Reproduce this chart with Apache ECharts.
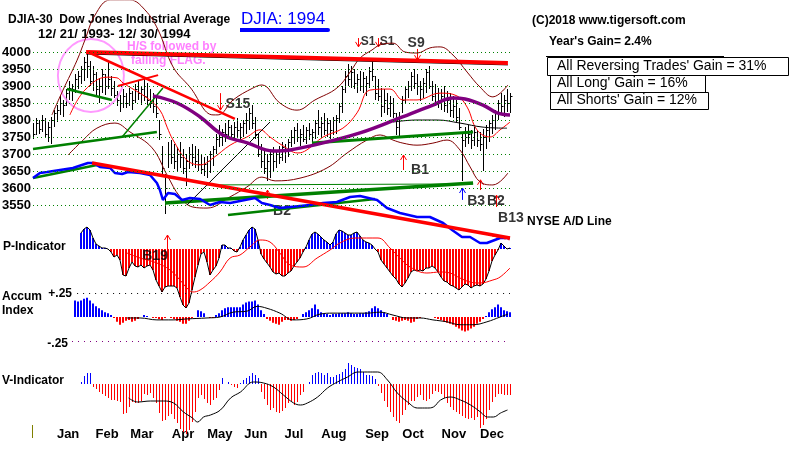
<!DOCTYPE html>
<html>
<head>
<meta charset="utf-8">
<script src="https://cdn.jsdelivr.net/npm/echarts@6/dist/echarts.min.js"></script>
<style>
  html, body { margin: 0; padding: 0; background: #fff; }
  #chart { width: 800px; height: 453px; }
</style>
</head>
<body>
<div id="chart"></div>
<script>
const FONT = '"Liberation Sans", Arial, sans-serif'

// x axis = bar slot (slot 0 = 12/21/93, last slot = 12/30/94)
const priceHigh = [
  3790, 3805, 3800, 3815, 3805, 3795, 3810, 3830, 3845, 3870,
  3860, 3890, 3915, 3905, 3935, 3945, 3960, 3985, 4000, 3975,
  3960, 3940, 3925, 3950, 3935, 3970, 3930, 3915, 3885, 3875,
  3890, 3880, 3895, 3885, 3905, 3915, 3900, 3920, 3910, 3890,
  3880, 3870, 3800, 3725, 3640, 3735, 3740, 3730, 3720, 3735,
  3715, 3700, 3720, 3730, 3725, 3715, 3700, 3690, 3695, 3710,
  3725, 3760, 3785, 3775, 3790, 3800, 3785, 3795, 3805, 3790,
  3800, 3820, 3835, 3845, 3810, 3760, 3730, 3710, 3700, 3715,
  3720, 3710, 3725, 3735, 3730, 3745, 3770, 3780, 3790, 3775,
  3785, 3780, 3790, 3775, 3800, 3830, 3810, 3820, 3805, 3800,
  3810, 3815, 3850, 3900, 3945, 3965, 3960, 3950, 3935, 3945,
  3940, 3930, 3955, 3975, 3930, 3920, 3895, 3890, 3880, 3870,
  3865, 3820, 3825, 3870, 3900, 3915, 3940, 3950, 3935, 3915,
  3925, 3950, 3960, 3915, 3905, 3895, 3890, 3900, 3885, 3880,
  3870, 3860, 3835, 3760, 3780, 3785, 3770, 3780, 3770, 3765,
  3775, 3785, 3800, 3815, 3830, 3860, 3880, 3875, 3890, 3880
]
const priceLow = [
  3745, 3755, 3760, 3765, 3750, 3735, 3728, 3780, 3795, 3815,
  3810, 3840, 3860, 3855, 3880, 3890, 3905, 3915, 3925, 3900,
  3885, 3870, 3850, 3880, 3875, 3890, 3870, 3865, 3840, 3825,
  3835, 3835, 3840, 3830, 3850, 3860, 3845, 3855, 3845, 3835,
  3820, 3805, 3740, 3640, 3525, 3660, 3670, 3655, 3650, 3660,
  3640, 3605, 3655, 3665, 3660, 3650, 3640, 3635, 3630, 3645,
  3665, 3700, 3720, 3725, 3735, 3745, 3740, 3745, 3750, 3740,
  3750, 3760, 3770, 3775, 3745, 3690, 3660, 3640, 3620, 3630,
  3650, 3660, 3670, 3680, 3675, 3690, 3720, 3730, 3735, 3725,
  3735, 3730, 3740, 3730, 3745, 3755, 3750, 3755, 3750, 3745,
  3755, 3760, 3790, 3820, 3880, 3900, 3895, 3890, 3880, 3885,
  3880, 3870, 3895, 3915, 3860, 3855, 3810, 3820, 3815, 3810,
  3805, 3755, 3750, 3820, 3850, 3865, 3885, 3890, 3875, 3855,
  3865, 3880, 3890, 3855, 3840, 3835, 3830, 3825, 3820, 3810,
  3805, 3795, 3770, 3620, 3720, 3730, 3715, 3725, 3720, 3710,
  3650, 3715, 3735, 3760, 3770, 3800, 3815, 3810, 3825, 3820
]
const priceClose = [
  3760, 3790, 3775, 3800, 3760, 3780, 3800, 3820, 3830, 3850,
  3845, 3880, 3895, 3890, 3920, 3930, 3950, 3970, 3960, 3915,
  3935, 3890, 3900, 3935, 3900, 3920, 3895, 3875, 3860, 3850,
  3870, 3850, 3880, 3860, 3890, 3880, 3890, 3870, 3860, 3850,
  3840, 3820, 3760, 3660, 3600, 3700, 3690, 3680, 3700, 3690,
  3660, 3680, 3700, 3690, 3680, 3670, 3655, 3670, 3680, 3700,
  3715, 3745, 3750, 3765, 3760, 3780, 3760, 3780, 3770, 3780,
  3790, 3800, 3820, 3790, 3760, 3700, 3680, 3660, 3680, 3700,
  3680, 3700, 3690, 3720, 3710, 3735, 3750, 3770, 3750, 3760,
  3745, 3770, 3760, 3765, 3790, 3780, 3790, 3770, 3790, 3770,
  3800, 3805, 3840, 3890, 3930, 3920, 3940, 3910, 3920, 3900,
  3925, 3910, 3945, 3930, 3880, 3870, 3840, 3860, 3835, 3850,
  3820, 3780, 3810, 3860, 3890, 3900, 3930, 3910, 3900, 3890,
  3910, 3940, 3900, 3870, 3880, 3850, 3870, 3845, 3860, 3830,
  3840, 3810, 3780, 3740, 3750, 3760, 3740, 3765, 3740, 3730,
  3750, 3770, 3790, 3800, 3820, 3850, 3840, 3860, 3850, 3870
]

const priceTicks = [3550, 3600, 3650, 3700, 3750, 3800, 3850, 3900, 3950, 4000]
const monthNames = ['Jan', 'Feb', 'Mar', 'Apr', 'May', 'Jun', 'Jul', 'Aug', 'Sep', 'Oct', 'Nov', 'Dec']
const monthPos = [11.7, 24.7, 36.3, 50, 62.3, 74.3, 87, 100.3, 114.7, 126.7, 140.3, 153]

// bands and moving averages [slot, price]
const upperBand = [[6.3,3815],[10,3888],[14.7,3976],[17.3,4035],[20.7,4109],[25.7,4153],[32.3,4153],[37.3,4124],[41.7,4065],[46.7,3956],[52.3,3897],[60,3815],[61.7,3815],[66.7,3859],[73.3,3894],[76.3,3903],[82.3,3850],[88,3829],[94,3859],[101.3,3894],[105.7,3941],[109,3982],[113,4006],[115.7,4021],[120,4026],[124,4000],[128,3997],[132.3,4012],[135.7,4015],[140,3991],[144.7,3941],[149,3897],[153.3,3868],[158.3,3903]]
const lowerBand = [[11.7,3697],[16.7,3741],[21.3,3776],[27.3,3791],[32.3,3765],[39.7,3718],[44.7,3638],[49,3574],[53.3,3544],[58,3541],[65.7,3574],[71.3,3603],[76.3,3632],[80.7,3621],[89,3629],[98,3659],[104.7,3703],[111.3,3741],[115.7,3756],[120,3741],[123.3,3732],[128,3726],[133.3,3732],[138,3741],[142.3,3712],[145.7,3662],[149,3618],[153.3,3609],[158.3,3644]]
const redMA = [[12.3,3815],[17.3,3888],[24.7,3926],[28,3924],[30,3909],[38,3865],[42.3,3829],[44.7,3779],[46.7,3741],[51.3,3682],[55.7,3668],[60,3688],[65.7,3726],[71.3,3750],[75.7,3771],[79,3750],[83,3726],[88.3,3703],[91.3,3712],[96.7,3750],[103.3,3776],[108,3821],[112.3,3888],[119,3891],[123.3,3859],[128,3859],[135.7,3879],[141.3,3871],[144.7,3838],[148,3771],[152.3,3750],[155.7,3771],[159,3794]]
const purpleMA = [[40,3871],[48,3850],[55.7,3809],[63.3,3756],[71.7,3732],[80,3709],[85.7,3712],[95,3729],[109,3762],[122.3,3806],[133.3,3844],[140,3865],[144,3862],[150,3844],[154.7,3821],[159,3815]]
const blackMA = [[120,3794],[128,3800],[134.7,3800],[142.3,3791],[150,3779],[158,3776]]

// NYSE A/D line (own scale)
const adLine = [[0,78],[2.3,83],[4.7,84],[9,86],[13.3,88],[18.3,93],[20,93],[22.3,89],[25.7,88],[27.3,83],[29.7,82],[31.7,84],[35.7,83],[39,81],[41.3,73],[42.3,66],[43.3,56],[45,63],[47.3,62],[49.7,56],[52.3,58],[55.7,57],[59,51],[62.3,54],[65.7,53],[69,55],[74,58],[76.3,53],[79,51],[82.3,48],[85.7,49],[89,50],[92.3,51],[96.7,53],[101.3,54],[105.7,59],[109,60],[114.7,56],[118,48],[122.3,43],[128,39],[132.3,39],[136.7,33],[139.7,26],[143,19],[145.7,19],[149,13],[151.3,13],[155.7,18],[159,18]]

// trend lines
const redTop = [[17.7,4000],[158.3,3968]]
const redFall = [[18.3,4000],[67.3,3803]]
const redFlag = [[28.3,3900],[41.7,3932]]
const greenNeck = [[11.3,3891],[26.3,3859]]
const greenRise = [[29.7,3750],[43.3,3894]]
const greenLong = [[0,3715],[41.3,3765]]
const greenSupport = [[44,3556],[146.7,3615]]
const greenFlat = [[58,3609],[146.7,3612]]
const greenUpper = [[93,3732],[146.7,3765]]
const blackDiag = [[51.3,3550],[79,3794]]
const adDown = [[19.7,93],[159,18]]
const adDownDotted = [[141.3,28],[159,16]]
const adUp = [[0,78],[21.3,91]]
const adSupport = [[65,41],[114,57]]

// indicators, one value per slot
const pStart = 16
const pValues = [
  16, 20, 22, 19, 11, 5, 3, 1, 1, 0,
  -3, -8, -6, -11, -26, -27, -19, -13, -17, -18,
  -16, -19, -17, -16, -21, -31, -37, -43, -38, -37,
  -37, -37, -39, -48, -56, -59, -54, -41, -28, -16,
  -5, -3, -13, -26, -21, -17, -9, 4, 4, 1,
  1, -2, -3, 2, 9, 14, 19, 22, 20, 9,
  -5, -10, -14, -18, -23, -25, -24, -27, -27, -24,
  -22, -17, -13, -9, -3, 2, 9, 15, 17, 15,
  12, 9, 7, 4, 7, 15, 19, 18, 16, 14,
  14, 16, 17, 13, 9, 7, 6, 4, 0, -3,
  -11, -15, -19, -23, -27, -30, -35, -38, -34, -29,
  -23, -21, -22, -21, -22, -19, -19, -17, -19, -23,
  -28, -32, -33, -36, -37, -39, -41, -38, -35, -36,
  -39, -37, -36, -37, -35, -30, -22, -12, -6, -1,
  6, 3, 0, 1
]
const pMA = [[31.3,-4],[35.7,-9],[41.3,-14],[45.7,-21],[49,-31],[51.3,-39],[53.3,-43],[55.7,-41],[59,-33],[62.3,-23],[65.7,-9],[69,-6],[72.3,2],[75.7,9],[79,7],[82.3,-4],[85.7,-16],[90,-18],[94.7,-9],[99,-1],[102.3,6],[107.3,11],[115,11],[119,1],[122.3,-9],[125.7,-18],[131.3,-24],[135.7,-23],[139,-24],[142.3,-29],[145.7,-33],[149,-34],[153.3,-31],[155.7,-28],[159,-19]]

const accStart = 14
const accValues = [
  .17, .16, .17, .19, .20, .17, .14, .11, .09, .07,
  .05, .04, .02, -.01, -.05, -.08, -.06, -.04, -.03, -.05,
  -.04, -.02, 0, .02, .01, 0, -.01, -.01, -.02, -.03,
  -.01, 0, -.01, -.02, -.04, -.05, -.07, -.07, -.04, -.01,
  0, .07, .06, .04, 0, -.01, -.01, .02, .04, .07,
  .09, .10, .10, .10, .10, .10, .13, .15, .16, .16,
  .17, .13, .07, .03, -.02, -.04, -.06, -.07, -.08, -.05,
  -.03, -.03, -.04, -.03, -.02, 0, .03, .05, .07, .09,
  .13, .08, .05, .04, .03, .02, .03, .03, .04, .04,
  .04, .05, .04, .03, .03, .04, .04, .05, .06, .09,
  .11, .09, .07, .05, .03, 0, -.03, -.04, -.05, -.04,
  -.03, -.04, -.06, -.05, -.02, -.01, 0, 0, 0, 0,
  -.01, -.02, -.03, -.05, -.06, -.07, -.08, -.10, -.12, -.14,
  -.15, -.14, -.12, -.10, -.07, -.05, -.02, .01, .05, .08,
  .10, .13, .10, .07, .06, .05
]
const accMA = [[31.3,-.01],[35.7,-.01],[41.3,-.03],[46.7,-.03],[51.3,-.02],[58,-.01],[62.3,0],[66.7,.05],[71.3,.06],[74.7,.11],[78,.09],[82.3,.04],[86.7,-.03],[91.3,-.02],[95.7,.03],[100,.04],[105.7,.04],[111.3,.04],[115.7,.05],[120,.02],[124.7,-.01],[129,-.01],[133.3,-.03],[138,-.05],[142.3,-.08],[146.7,-.08],[151.3,-.05],[155.7,0],[158.3,.03]]

const vStart = 16
const vValues = [
  2, 8, 11, 11, -3, -5, -8, -10, -12, -14,
  -16, -16, -17, -18, -30, -29, -23, -18, -19, -19,
  -17, -10, -11, -9, -14, -19, -29, -37, -36, -32,
  -30, -35, -39, -45, -48, -50, -46, -38, -28, -14,
  -11, -15, -19, -21, -16, -14, -6, 6, 0, 2,
  -1, -3, -4, 1, 4, 6, 8, 11, 9, 6,
  -8, -15, -21, -26, -24, -28, -29, -27, -24, -19,
  -17, -21, -18, -11, -8, 0, 2, 9, 11, 12,
  11, 9, 11, 7, 7, 9, 10, 12, 15, 21,
  19, 17, 16, 15, 12, 9, 9, 8, 5, -2,
  -9, -17, -23, -28, -33, -37, -39, -31, -26, -21,
  -17, -17, -13, -11, -16, -17, -15, -10, -7, -8,
  -10, -14, -19, -23, -26, -28, -30, -32, -34, -35,
  -34, -36, -33, -44, -41, -35, -26, -18, -13, -10,
  -10, -11, -11, -11
]
const vMA = [[31.7,-14],[34.7,-18],[39,-17],[43.3,-17],[46.7,-19],[50,-28],[53,-34],[54.7,-38],[56.7,-33],[59,-31],[62.3,-26],[65.7,-14],[69,-8],[73.3,2],[76.7,1],[80,-3],[83.3,-11],[86.7,-19],[89,-21],[91.3,-19],[94.7,-13],[98,-4],[101.3,2],[104.7,7],[108,12],[111.3,12],[114.7,12],[118,4],[121.3,-9],[124.7,-18],[128,-24],[131.3,-24],[133.3,-23],[135.7,-16],[139,-13],[142.3,-16],[145.7,-21],[149,-28],[151.3,-33],[153.3,-33],[155.7,-29],[158,-26]]

// signals: [slot, from, to]
const priceArrows = [
  { value: [62.3, 3879, 3829], color: '#ff0000' },
  { value: [108.3, 4041, 4015], color: '#ff0000' },
  { value: [115, 4041, 4015], color: '#ff0000' },
  { value: [128, 4009, 3976], color: '#ff0000' },
  { value: [123.3, 3653, 3697], color: '#ff0000' },
  { value: [143, 3565, 3600], color: '#0000ff' },
  { value: [149, 3594, 3624], color: '#ff0000' },
  { value: [154.3, 3544, 3579], color: '#ff0000' },
  { value: [78, 3568, 3594], color: '#ff0000' }
]
const pArrows = [{ value: [44.7, -4, 14], color: '#ff0000' }]
const priceSignals = [
  { name: 'S15', value: [68.3, 3847], size: 14 },
  { name: 'S1', value: [111.7, 4029], size: 12 },
  { name: 'S1', value: [118, 4029], size: 12 },
  { name: 'S9', value: [127.7, 4026], size: 14 },
  { name: 'B1', value: [129, 3653], size: 14 },
  { name: 'B3', value: [147.7, 3562], size: 14 },
  { name: 'B2', value: [154.3, 3562], size: 14 },
  { name: 'B2', value: [83, 3532], size: 14 },
  { name: 'B13', value: [159.3, 3512], size: 14 }
]
const pSignals = [{ name: 'B19', value: [40.7, -7], size: 14 }]

const chart = echarts.init(document.getElementById('chart'))

const seg = (data, color, width, yAxisIndex = 0, smooth = false, type = 'solid') => ({
  type: 'line', xAxisIndex: 0, yAxisIndex, data, smooth,
  showSymbol: false, silent: true, animation: false,
  lineStyle: { color, width, type }
})

// high-low bar with a close tick on the right
const renderBar = (params, api) => {
  const lo = api.coord([api.value(0), api.value(1)])
  const hi = api.coord([api.value(0), api.value(2)])
  const cl = api.coord([api.value(0), api.value(3)])
  const x = Math.round(lo[0]) + 0.5
  const yc = Math.round(cl[1]) + 0.5
  return {
    type: 'group',
    children: [
      { type: 'line', shape: { x1: x, y1: Math.round(lo[1]), x2: x, y2: Math.round(hi[1]) }, style: { stroke: '#000', lineWidth: 1 } },
      { type: 'line', shape: { x1: x, y1: yc, x2: x + 2, y2: yc }, style: { stroke: '#000', lineWidth: 1 } }
    ]
  }
}

const renderArrow = (params, api) => {
  const a = api.coord([api.value(0), api.value(1)])
  const b = api.coord([api.value(0), api.value(2)])
  const x = Math.round(a[0]) + 0.5
  const d = b[1] < a[1] ? 5 : -5
  const color = api.visual('color')
  return {
    type: 'group',
    children: [
      { type: 'line', shape: { x1: x, y1: a[1], x2: x, y2: b[1] }, style: { stroke: color, lineWidth: 1 } },
      { type: 'polyline', shape: { points: [[x - 3, b[1] + d], [x, b[1]], [x + 3, b[1] + d]] }, style: { stroke: color, fill: 'none', lineWidth: 1 } }
    ]
  }
}

const arrowSeries = (list, xi, yi) => ({
  type: 'custom', xAxisIndex: xi, yAxisIndex: yi, renderItem: renderArrow, silent: true, clip: false,
  data: list.map(a => ({ value: a.value, itemStyle: { color: a.color } }))
})

const labelSeries = (list, xi, yi) => ({
  type: 'scatter', xAxisIndex: xi, yAxisIndex: yi, symbolSize: 0, silent: true, clip: false,
  data: list.map(s => ({ name: s.name, value: s.value, label: { fontSize: s.size } })),
  label: { show: true, position: 'inside', formatter: '{b}', color: '#000', fontWeight: 'bold', fontFamily: FONT }
})

const histSeries = (values, start, xi, yi, width) => ({
  type: 'bar', xAxisIndex: xi, yAxisIndex: yi, barWidth: width, silent: true,
  data: values.map((v, i) => [start + i, v]),
  itemStyle: { color: p => (p.value[1] >= 0 ? '#0000ff' : '#ff0000') }
})

const hiddenX = i => ({ type: 'value', gridIndex: i, min: 0, max: 159, show: false })

const text = (x, y, str, font, fill = '#000') => ({
  type: 'text', x, y, silent: true,
  style: { text: str, font, fill, textVerticalAlign: 'middle' }
})

const box = (x, y, w, h) => ({
  type: 'rect', silent: true, shape: { x: x + 0.5, y: y + 0.5, width: w, height: h },
  style: { fill: '#fff', stroke: '#000', lineWidth: 1 }
})

const option = {
  backgroundColor: '#fff',
  animation: false,
  grid: [
    { left: 33, right: 290, top: 1, height: 255, outerBoundsMode: 'none' },
    { left: 33, right: 290, top: 219, height: 100, outerBoundsMode: 'none' },
    { left: 33, right: 290, top: 288, height: 58, outerBoundsMode: 'none' },
    { left: 33.5, right: 289.5, top: 354, height: 90, outerBoundsMode: 'none' },
    { left: 33, right: 290, top: 400, height: 26, outerBoundsMode: 'none' }
  ],
  xAxis: [
    hiddenX(0), hiddenX(1), hiddenX(2), hiddenX(3),
    {
      type: 'value', gridIndex: 4, min: 0, max: 159,
      axisLine: { show: false }, axisTick: { show: false }, splitLine: { show: false },
      axisLabel: {
        customValues: monthPos,
        formatter: v => monthNames[monthPos.indexOf(v)],
        color: '#000', fontWeight: 'bold', fontSize: 13, fontFamily: FONT, margin: 2
      }
    }
  ],
  yAxis: [
    {
      type: 'value', gridIndex: 0, min: 3400, max: 4150, interval: 50,
      axisLine: { show: false }, axisTick: { show: false }, splitLine: { show: false },
      axisLabel: {
        formatter: v => (v >= 3550 && v <= 4000 ? String(v) : ''),
        color: '#000', fontWeight: 'bold', fontSize: 13, fontFamily: FONT, margin: 2
      }
    },
    { type: 'value', gridIndex: 0, min: 0, max: 255, show: false },
    { type: 'value', gridIndex: 1, min: -70, max: 30, show: false },
    { type: 'value', gridIndex: 2, min: -0.3, max: 0.3, show: false },
    { type: 'value', gridIndex: 3, min: -60, max: 30, show: false },
    { type: 'value', gridIndex: 4, min: 0, max: 1, show: false }
  ],
  series: [
    // price gridlines
    {
      type: 'line', xAxisIndex: 0, yAxisIndex: 0, data: priceTicks.map(v => [0, v]),
      showSymbol: false, lineStyle: { opacity: 0 }, silent: true,
      markLine: {
        silent: true, symbol: 'none', label: { show: false },
        lineStyle: { color: '#008000', type: [1, 3], width: 1 },
        data: priceTicks.map(v => ({ yAxis: v }))
      }
    },
    // accum +.25 / -.25
    {
      type: 'line', xAxisIndex: 2, yAxisIndex: 3, data: [[20, 0]],
      showSymbol: false, lineStyle: { opacity: 0 }, silent: true,
      markLine: {
        silent: true, symbol: 'none', label: { show: false },
        data: [
          [{ coord: [14.7, 0.25], lineStyle: { color: '#000', type: [1, 5], width: 1 } }, { coord: [159, 0.25] }],
          [{ coord: [13, -0.25], lineStyle: { color: '#800080', type: [1, 5], width: 1 } }, { coord: [159, -0.25] }]
        ]
      }
    },
    seg(upperBand, '#800000', 1, 0, 0.4),
    seg(lowerBand, '#800000', 1, 0, 0.4),
    seg(redMA, '#ff0000', 1, 0, 0.4),
    seg(blackMA, '#000000', 1, 0, 0.4),
    seg(greenLong, '#008000', 2.5),
    seg(greenNeck, '#008000', 2.5),
    seg(greenRise, '#008000', 1.5),
    seg(greenSupport, '#008000', 3.5),
    seg(greenFlat, '#008000', 1),
    seg(greenUpper, '#008000', 3),
    seg(blackDiag, '#000000', 1),
    {
      type: 'custom', xAxisIndex: 0, yAxisIndex: 0, renderItem: renderBar, silent: true,
      encode: { x: 0, y: [1, 2, 3] },
      data: priceHigh.map((h, i) => [i, priceLow[i], h, priceClose[i]])
    },
    seg(purpleMA, '#800080', 3.5, 0, 0.4),
    seg(redTop.map(p => [p[0], p[1] - 6]), '#000000', 1),
    seg(redTop, '#ff0000', 4),
    seg(redFall, '#ff0000', 2.5),
    seg(redFlag, '#ff0000', 2),
    // A/D
    seg(adUp, '#008000', 2.5, 1),
    seg(adSupport, '#008000', 2.5, 1),
    seg(adLine, '#0000ff', 2.5, 1),
    seg(adDownDotted, '#ff0000', 1, 1, false, [2, 2]),
    seg(adDown, '#ff0000', 3.5, 1),
    // pink circle
    {
      type: 'scatter', xAxisIndex: 0, yAxisIndex: 0, silent: true,
      symbol: 'circle', symbolSize: [66, 73],
      itemStyle: { color: 'rgba(0,0,0,0)', borderColor: '#ff80ff', borderWidth: 2 },
      data: [[19.3, 3931]]
    },
    arrowSeries(priceArrows, 0, 0),
    labelSeries(priceSignals, 0, 0),
    // P-Indicator
    histSeries(pValues, pStart, 1, 2, 2),
    {
      type: 'line', xAxisIndex: 1, yAxisIndex: 2, showSymbol: false, silent: true,
      data: pValues.map((v, i) => [pStart + i, v]), lineStyle: { color: '#000', width: 1 }
    },
    { type: 'line', xAxisIndex: 1, yAxisIndex: 2, showSymbol: false, silent: true, smooth: 0.4, data: pMA, lineStyle: { color: '#ff0000', width: 1 } },
    arrowSeries(pArrows, 1, 2),
    labelSeries(pSignals, 1, 2),
    // Accum Index
    histSeries(accValues, accStart, 2, 3, 2),
    { type: 'line', xAxisIndex: 2, yAxisIndex: 3, showSymbol: false, silent: true, smooth: 0.4, data: accMA, lineStyle: { color: '#000', width: 1 } },
    // V-Indicator
    histSeries(vValues, vStart, 3, 4, 1),
    { type: 'line', xAxisIndex: 3, yAxisIndex: 4, showSymbol: false, silent: true, smooth: 0.4, data: vMA, lineStyle: { color: '#000', width: 1 } }
  ],
  graphic: [
    text(8, 20, 'DJIA-30  Dow Jones Industrial Average', 'bold 12px ' + FONT),
    text(38, 34, '12/ 21/ 1993- 12/ 30/ 1994', 'bold 13px ' + FONT),
    text(241, 19, 'DJIA: 1994', '17px ' + FONT, '#0000ff'),
    { type: 'rect', silent: true, shape: { x: 240, y: 28, width: 90, height: 4, r: [0, 2, 2, 0] }, style: { fill: '#0000ff' } },
    text(532, 21, '(C)2018 www.tigersoft.com', 'bold 12px ' + FONT),
    text(549, 42, "Year's Gain= 2.4%", 'bold 12px ' + FONT),
    { type: 'line', silent: true, shape: { x1: 546, y1: 56.5, x2: 724, y2: 56.5 }, style: { stroke: '#000', lineWidth: 1 } },
    box(547, 57, 241, 18),
    text(557, 66, "All Reversing Trades' Gain = 31%", '14px ' + FONT),
    box(550, 75, 155, 17),
    text(557, 83, "All Long' Gain = 16%", '14px ' + FONT),
    box(550, 92, 158, 17),
    text(557, 100, "All Shorts' Gain = 12%", '14px ' + FONT),
    text(127, 47, 'H/S followed by', 'bold 12px ' + FONT, '#ff80ff'),
    text(131, 61, 'falling FLAG.', 'bold 12px ' + FONT, '#ff80ff'),
    text(527, 222, 'NYSE A/D Line', 'bold 12px ' + FONT),
    text(3, 247, 'P-Indicator', 'bold 12px ' + FONT),
    text(2, 297, 'Accum', 'bold 12px ' + FONT),
    text(2, 311, 'Index', 'bold 12px ' + FONT),
    { type: 'text', x: 72, y: 294, silent: true, style: { text: '+.25', font: 'bold 12px ' + FONT, fill: '#000', textAlign: 'right', textVerticalAlign: 'middle' } },
    { type: 'text', x: 68, y: 344, silent: true, style: { text: '-.25', font: 'bold 12px ' + FONT, fill: '#000', textAlign: 'right', textVerticalAlign: 'middle' } },
    text(2, 381, 'V-Indicator', 'bold 12px ' + FONT),
    { type: 'line', silent: true, shape: { x1: 32.5, y1: 425, x2: 32.5, y2: 438 }, style: { stroke: '#808000', lineWidth: 1 } }
  ]
}

chart.setOption(option)
</script>
</body>
</html>
